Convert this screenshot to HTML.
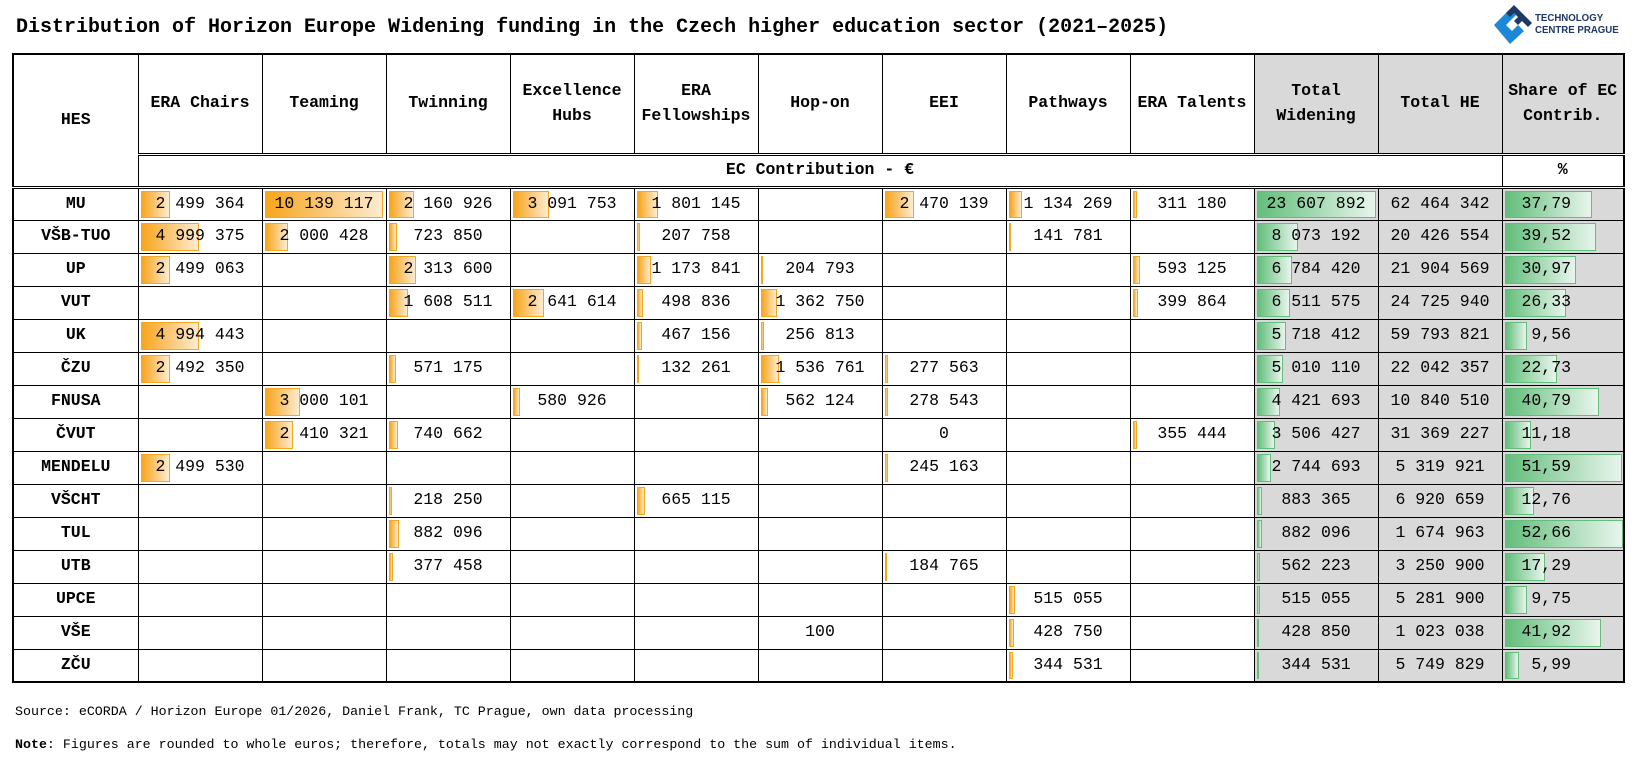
<!DOCTYPE html>
<html><head><meta charset="utf-8"><style>
*{margin:0;padding:0;box-sizing:border-box}
body{width:1637px;height:761px;background:#fff;position:relative;font-family:"Liberation Mono",monospace;color:#000;overflow:hidden}
.title{position:absolute;left:16px;top:16px;font-size:20px;font-weight:bold;white-space:nowrap}
table{position:absolute;left:12px;top:53px;width:1611px;border-collapse:collapse;table-layout:fixed;border:2px solid #000}
td,th{border:1px solid #000;font-size:16.5px;text-align:center;position:relative;white-space:nowrap;line-height:1.15}
th{font-weight:bold;line-height:1.5}
tr.h1 th{height:100px;border-bottom:3px double #000}
tr.h2 th{height:33px;border-bottom:3px double #000}
tbody td{height:33px}
tbody td:first-child{font-weight:bold}
.gr{background:#d9d9d9}
td span{position:relative}
i{position:absolute;left:2px;top:2px;bottom:2px;display:block}
i.o{background:linear-gradient(90deg,#f7a51d,#fdebd0);border:1px solid #f5a623}
i.g{background:linear-gradient(90deg,#63be7b,#e8f5ec);border:1px solid #63be7b}
td.s{text-align:right;padding-right:52px}
.foot{position:absolute;left:15px;font-size:13.3px;white-space:nowrap}
.logo{position:absolute;left:1492px;top:5px}
.lt{position:absolute;left:1535px;top:12px;font-family:"Liberation Sans",sans-serif;font-weight:bold;font-size:10.5px;line-height:12px;color:#1f3864;transform:scaleX(0.92);transform-origin:left}
</style></head><body>
<div class="title">Distribution of Horizon Europe Widening funding in the Czech higher education sector (2021–2025)</div>
<svg class="logo" width="42" height="40" viewBox="0 0 42 40">
<polygon points="2,20 18,4 24,10 14,20 20,26 26,20 32,26 18,39" fill="#1e88d8"/>
<polygon points="14,8 22,0 40,18 36,22 30,16 26,20 22,16 26,12 22,8 18,12" fill="#1f3864"/>
</svg>
<div class="lt">TECHNOLOGY<br>CENTRE PRAGUE</div>
<table>
<colgroup><col style="width:125px"><col span="11" style="width:124px"><col style="width:122px"></colgroup>
<thead>
<tr class="h1"><th rowspan="2" style="border-bottom:3px double #000">HES</th><th>ERA Chairs</th><th>Teaming</th><th>Twinning</th><th>Excellence<br>Hubs</th><th>ERA<br>Fellowships</th><th>Hop-on</th><th>EEI</th><th>Pathways</th><th>ERA Talents</th><th class="gr">Total<br>Widening</th><th class="gr">Total HE</th><th class="gr">Share of EC<br>Contrib.</th></tr>
<tr class="h2"><th colspan="11">EC Contribution - €</th><th>%</th></tr>
</thead>
<tbody>
<tr><td>MU</td><td><i class="o" style="width:29px"></i><span>2 499 364</span></td><td><i class="o" style="width:118px"></i><span>10 139 117</span></td><td><i class="o" style="width:25px"></i><span>2 160 926</span></td><td><i class="o" style="width:36px"></i><span>3 091 753</span></td><td><i class="o" style="width:21px"></i><span>1 801 145</span></td><td></td><td><i class="o" style="width:29px"></i><span>2 470 139</span></td><td><i class="o" style="width:13px"></i><span>1 134 269</span></td><td><i class="o" style="width:4px"></i><span>311 180</span></td><td class="gr"><i class="g" style="width:119px"></i><span>23 607 892</span></td><td class="gr">62 464 342</td><td class="gr s"><i class="g" style="width:87px"></i><span>37,79</span></td></tr>
<tr><td>VŠB-TUO</td><td><i class="o" style="width:58px"></i><span>4 999 375</span></td><td><i class="o" style="width:23px"></i><span>2 000 428</span></td><td><i class="o" style="width:8px"></i><span>723 850</span></td><td></td><td><i class="o" style="width:3px"></i><span>207 758</span></td><td></td><td></td><td><i class="o" style="width:2px"></i><span>141 781</span></td><td></td><td class="gr"><i class="g" style="width:41px"></i><span>8 073 192</span></td><td class="gr">20 426 554</td><td class="gr s"><i class="g" style="width:91px"></i><span>39,52</span></td></tr>
<tr><td>UP</td><td><i class="o" style="width:29px"></i><span>2 499 063</span></td><td></td><td><i class="o" style="width:27px"></i><span>2 313 600</span></td><td></td><td><i class="o" style="width:14px"></i><span>1 173 841</span></td><td><i class="o" style="width:2px"></i><span>204 793</span></td><td></td><td></td><td><i class="o" style="width:7px"></i><span>593 125</span></td><td class="gr"><i class="g" style="width:35px"></i><span>6 784 420</span></td><td class="gr">21 904 569</td><td class="gr s"><i class="g" style="width:71px"></i><span>30,97</span></td></tr>
<tr><td>VUT</td><td></td><td></td><td><i class="o" style="width:19px"></i><span>1 608 511</span></td><td><i class="o" style="width:31px"></i><span>2 641 614</span></td><td><i class="o" style="width:6px"></i><span>498 836</span></td><td><i class="o" style="width:16px"></i><span>1 362 750</span></td><td></td><td></td><td><i class="o" style="width:5px"></i><span>399 864</span></td><td class="gr"><i class="g" style="width:33px"></i><span>6 511 575</span></td><td class="gr">24 725 940</td><td class="gr s"><i class="g" style="width:61px"></i><span>26,33</span></td></tr>
<tr><td>UK</td><td><i class="o" style="width:58px"></i><span>4 994 443</span></td><td></td><td></td><td></td><td><i class="o" style="width:5px"></i><span>467 156</span></td><td><i class="o" style="width:3px"></i><span>256 813</span></td><td></td><td></td><td></td><td class="gr"><i class="g" style="width:29px"></i><span>5 718 412</span></td><td class="gr">59 793 821</td><td class="gr s"><i class="g" style="width:22px"></i><span>9,56</span></td></tr>
<tr><td>ČZU</td><td><i class="o" style="width:29px"></i><span>2 492 350</span></td><td></td><td><i class="o" style="width:7px"></i><span>571 175</span></td><td></td><td><i class="o" style="width:2px"></i><span>132 261</span></td><td><i class="o" style="width:18px"></i><span>1 536 761</span></td><td><i class="o" style="width:3px"></i><span>277 563</span></td><td></td><td></td><td class="gr"><i class="g" style="width:26px"></i><span>5 010 110</span></td><td class="gr">22 042 357</td><td class="gr s"><i class="g" style="width:52px"></i><span>22,73</span></td></tr>
<tr><td>FNUSA</td><td></td><td><i class="o" style="width:35px"></i><span>3 000 101</span></td><td></td><td><i class="o" style="width:7px"></i><span>580 926</span></td><td></td><td><i class="o" style="width:7px"></i><span>562 124</span></td><td><i class="o" style="width:3px"></i><span>278 543</span></td><td></td><td></td><td class="gr"><i class="g" style="width:23px"></i><span>4 421 693</span></td><td class="gr">10 840 510</td><td class="gr s"><i class="g" style="width:94px"></i><span>40,79</span></td></tr>
<tr><td>ČVUT</td><td></td><td><i class="o" style="width:28px"></i><span>2 410 321</span></td><td><i class="o" style="width:9px"></i><span>740 662</span></td><td></td><td></td><td></td><td>0</td><td></td><td><i class="o" style="width:4px"></i><span>355 444</span></td><td class="gr"><i class="g" style="width:18px"></i><span>3 506 427</span></td><td class="gr">31 369 227</td><td class="gr s"><i class="g" style="width:26px"></i><span>11,18</span></td></tr>
<tr><td>MENDELU</td><td><i class="o" style="width:29px"></i><span>2 499 530</span></td><td></td><td></td><td></td><td></td><td></td><td><i class="o" style="width:3px"></i><span>245 163</span></td><td></td><td></td><td class="gr"><i class="g" style="width:14px"></i><span>2 744 693</span></td><td class="gr">5 319 921</td><td class="gr s"><i class="g" style="width:117px"></i><span>51,59</span></td></tr>
<tr><td>VŠCHT</td><td></td><td></td><td><i class="o" style="width:3px"></i><span>218 250</span></td><td></td><td><i class="o" style="width:8px"></i><span>665 115</span></td><td></td><td></td><td></td><td></td><td class="gr"><i class="g" style="width:5px"></i><span>883 365</span></td><td class="gr">6 920 659</td><td class="gr s"><i class="g" style="width:29px"></i><span>12,76</span></td></tr>
<tr><td>TUL</td><td></td><td></td><td><i class="o" style="width:10px"></i><span>882 096</span></td><td></td><td></td><td></td><td></td><td></td><td></td><td class="gr"><i class="g" style="width:5px"></i><span>882 096</span></td><td class="gr">1 674 963</td><td class="gr s"><i class="g" style="width:118px"></i><span>52,66</span></td></tr>
<tr><td>UTB</td><td></td><td></td><td><i class="o" style="width:4px"></i><span>377 458</span></td><td></td><td></td><td></td><td><i class="o" style="width:2px"></i><span>184 765</span></td><td></td><td></td><td class="gr"><i class="g" style="width:3px"></i><span>562 223</span></td><td class="gr">3 250 900</td><td class="gr s"><i class="g" style="width:40px"></i><span>17,29</span></td></tr>
<tr><td>UPCE</td><td></td><td></td><td></td><td></td><td></td><td></td><td></td><td><i class="o" style="width:6px"></i><span>515 055</span></td><td></td><td class="gr"><i class="g" style="width:3px"></i><span>515 055</span></td><td class="gr">5 281 900</td><td class="gr s"><i class="g" style="width:22px"></i><span>9,75</span></td></tr>
<tr><td>VŠE</td><td></td><td></td><td></td><td></td><td></td><td>100</td><td></td><td><i class="o" style="width:5px"></i><span>428 750</span></td><td></td><td class="gr"><i class="g" style="width:2px"></i><span>428 850</span></td><td class="gr">1 023 038</td><td class="gr s"><i class="g" style="width:96px"></i><span>41,92</span></td></tr>
<tr><td>ZČU</td><td></td><td></td><td></td><td></td><td></td><td></td><td></td><td><i class="o" style="width:4px"></i><span>344 531</span></td><td></td><td class="gr"><i class="g" style="width:2px"></i><span>344 531</span></td><td class="gr">5 749 829</td><td class="gr s"><i class="g" style="width:14px"></i><span>5,99</span></td></tr>
</tbody>
</table>
<div class="foot" style="top:704px">Source: eCORDA / Horizon Europe 01/2026, Daniel Frank, TC Prague, own data processing</div>
<div class="foot" style="top:737px"><b>Note</b>: Figures are rounded to whole euros; therefore, totals may not exactly correspond to the sum of individual items.</div>
</body></html>
